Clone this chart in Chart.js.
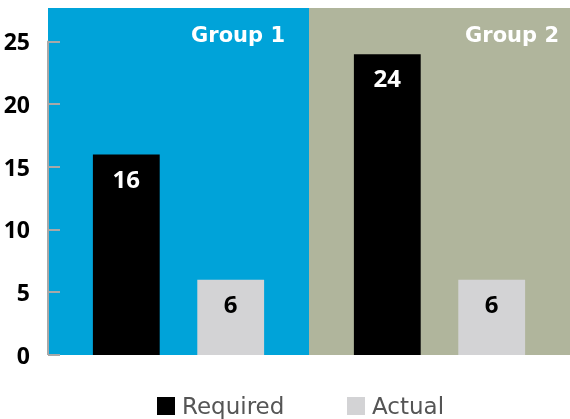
<!DOCTYPE html>
<html>
<head>
<meta charset="utf-8">
<script src="https://cdn.jsdelivr.net/npm/chart.js@4"></script>
<style>
  html, body { margin: 0; padding: 0; background: #fff; }
  #wrap { width: 570px; height: 419px; }
</style>
</head>
<body>
<div id="wrap"><canvas id="chart"></canvas></div>
<script>
const groups = ['Group 1', 'Group 2'];
const requiredValues = [16, 24];
const actualValues = [6, 6];
const yTicks = [0, 5, 10, 15, 20, 25];
const groupColors = ['#00a3d9', '#b0b59c'];

const fontFamily = '"DejaVu Sans", sans-serif';
const numberFont = '"Open Sans", "DejaVu Sans", sans-serif';

// fonds colorés par groupe, libellés, valeurs, axe et légende
const groupBackground = {
    id: 'groupBackground',
    beforeDatasetsDraw(chart) {
        const { ctx, chartArea: a, scales: { x } } = chart;
        const mid = (x.getPixelForValue(0) + x.getPixelForValue(1)) / 2;
        ctx.save();
        ctx.fillStyle = groupColors[0];
        ctx.fillRect(a.left, a.top, mid - a.left, a.bottom - a.top);
        ctx.fillStyle = groupColors[1];
        ctx.fillRect(mid, a.top, a.right - mid, a.bottom - a.top);
        ctx.fillStyle = '#fff';
        ctx.font = 'bold 21px ' + fontFamily;
        ctx.textAlign = 'right';
        ctx.textBaseline = 'alphabetic';
        ctx.fillText(groups[0], mid - 24, a.top + 34);
        ctx.fillText(groups[1], a.right - 11, a.top + 34);
        ctx.restore();
    },
    afterDatasetsDraw(chart) {
        const { ctx, chartArea: a, scales: { y } } = chart;
        ctx.save();
        // valeurs dans les barres
        ctx.font = 'bold 24px ' + numberFont;
        ctx.textAlign = 'center';
        ctx.textBaseline = 'alphabetic';
        chart.data.datasets.forEach((ds, i) => {
            chart.getDatasetMeta(i).data.forEach((bar, j) => {
                ctx.fillStyle = i === 0 ? '#fff' : '#000';
                ctx.fillText(ds.data[j], bar.x, bar.y + 33);
            });
        });
        // axe vertical et graduations vers l'intérieur
        ctx.strokeStyle = '#a8a8a8';
        ctx.lineWidth = 2;
        ctx.beginPath();
        ctx.moveTo(a.left, y.getPixelForValue(25) - 1);
        ctx.lineTo(a.left, a.bottom);
        yTicks.forEach(t => {
            const py = Math.round(y.getPixelForValue(t));
            ctx.moveTo(a.left, py);
            ctx.lineTo(a.left + 12, py);
        });
        ctx.stroke();
        // légende
        const items = [
            { text: chart.data.datasets[0].label, color: '#000', x: 157 },
            { text: chart.data.datasets[1].label, color: '#d3d3d5', x: 347 }
        ];
        ctx.font = '23px ' + fontFamily;
        ctx.textAlign = 'left';
        items.forEach(it => {
            ctx.fillStyle = it.color;
            ctx.fillRect(it.x, 397, 18, 18);
            ctx.fillStyle = '#555';
            ctx.fillText(it.text, it.x + 25, 414);
        });
        ctx.restore();
    }
};

new Chart(document.getElementById('chart'), {
    type: 'bar',
    data: {
        labels: groups,
        datasets: [
            { label: 'Required', data: requiredValues, backgroundColor: '#000' },
            { label: 'Actual', data: actualValues, backgroundColor: '#d3d3d5' }
        ]
    },
    options: {
        responsive: true,
        maintainAspectRatio: false,
        animation: false,
        layout: { padding: { top: 8, right: 0, bottom: 64, left: 0 } },
        datasets: { bar: { categoryPercentage: 0.8, barPercentage: 0.64 } },
        scales: {
            x: { display: false },
            y: {
                min: 0,
                max: 27.7,
                afterBuildTicks: scale => { scale.ticks = yTicks.map(v => ({ value: v })); },
                afterFit: scale => {
                    scale.width = 48;
                    scale.paddingTop = 0;
                    scale.paddingBottom = 0;
                },
                border: { display: false },
                grid: { display: false },
                ticks: {
                    color: '#000',
                    padding: 10,
                    labelOffset: 2,
                    font: { family: numberFont, size: 23, weight: 'bold' }
                }
            }
        },
        plugins: {
            legend: { display: false },
            tooltip: { enabled: false }
        }
    },
    plugins: [groupBackground]
});
</script>
</body>
</html>
